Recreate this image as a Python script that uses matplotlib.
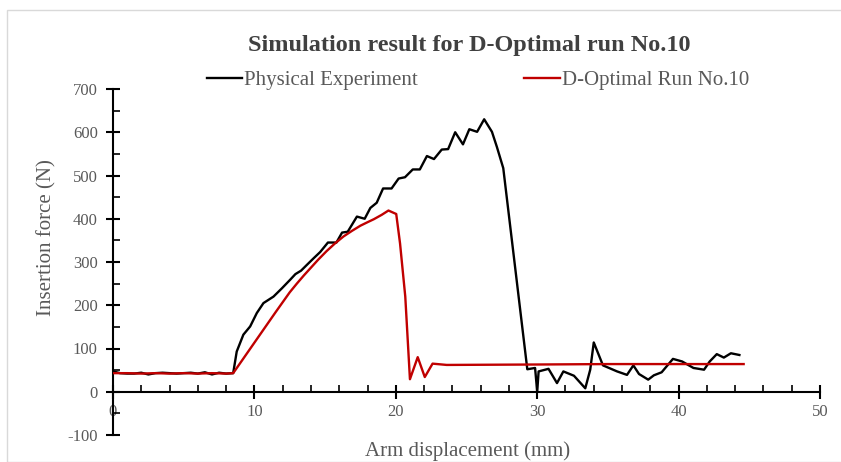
import matplotlib
matplotlib.use("Agg")
import matplotlib.pyplot as plt
from matplotlib.patches import Rectangle
from matplotlib.ticker import MultipleLocator

plt.rcParams['font.family'] = ['Liberation Serif', 'DejaVu Serif']
plt.rcParams['axes.unicode_minus'] = False

# Physical experiment: arm displacement (mm) vs insertion force (N)
exp_x = [0.0, 0.5, 1.0, 1.5, 2.0, 2.5, 3.0, 3.5, 4.0, 4.5, 5.0, 5.5, 6.0, 6.5, 7.0, 7.5, 8.0, 8.5,
         8.75, 9.22, 9.7, 10.17, 10.64, 11.35, 11.94, 12.53, 12.9, 13.3, 13.7, 14.2, 14.65, 15.2, 15.8,
         16.2, 16.6, 17.25, 17.8, 18.2, 18.65, 19.1, 19.7, 20.2, 20.65, 21.2, 21.7, 22.2, 22.7,
         23.25, 23.7, 24.2, 24.75, 25.2, 25.75, 26.25, 26.8, 27.15, 27.6, 29.3, 29.85, 30.0,
         30.1, 30.8, 31.4, 31.85, 32.6, 33.4, 33.75, 34.0, 34.65, 35.65, 36.35, 36.8, 37.2,
         37.85, 38.25, 38.8, 39.6, 40.25, 41.05, 41.8, 42.2, 42.7, 43.2, 43.7, 44.3]
exp_y = [47, 43, 42, 42, 44, 40, 43, 44, 43, 42, 43, 44, 42, 45, 40, 44, 42, 43,
         93, 132, 151, 182, 205, 220, 239, 259, 272, 280, 293, 309, 323, 345, 345,
         368, 370, 405, 400, 425, 437, 470, 470, 493, 496, 514, 514, 545, 538,
         560, 561, 600, 572, 607, 601, 630, 601, 566, 517, 52, 55, 0,
         47, 53, 20, 47, 37, 8, 51, 114, 61, 47, 39, 61, 41,
         28, 38, 45, 76, 70, 55, 51, 70, 87, 79, 89, 85]

# D-Optimal simulation run No.10
sim_x = [0.0, 1.0, 2.0, 3.0, 4.0, 5.0, 6.0, 7.0, 8.0, 8.5, 9.5, 10.5, 11.5, 12.5, 13.0,
         13.5, 14.0, 14.5, 15.1, 15.7, 16.3, 16.9, 17.5, 18.0, 18.45, 19.0, 19.48, 20.03,
         20.3, 20.67, 21.0, 21.55, 22.05, 22.6, 23.6, 30.0, 35.0, 40.0, 44.6]
sim_y = [43, 43, 42, 43, 42, 43, 42, 43, 42, 43, 90, 137, 184, 230, 250,
         269, 287, 305, 325, 343, 359, 372, 384, 392, 399, 409, 419, 411,
         343, 220, 29, 80, 34, 65, 62, 63, 64, 64, 64]

exp_label = "Physical Experiment"
sim_label = "D-Optimal Run No.10"
title = "Simulation result for D-Optimal run No.10"
x_label = "Arm displacement (mm)"
y_label = "Insertion force (N)"

text_gray = "#595959"

fig = plt.figure(figsize=(8.41, 4.62), dpi=100)
fig.patches.append(Rectangle((7 / 841, 0), 1.0, 1 - 10 / 462, transform=fig.transFigure,
                             fill=False, edgecolor="#D9D9D9", linewidth=1.0))

ax = fig.add_axes([113 / 841, 27 / 462, 707 / 841, 346 / 462])
ax.plot(exp_x, exp_y, color="black", lw=1.7, label=exp_label, zorder=2)
ax.plot(sim_x, sim_y, color="#C00000", lw=1.7, label=sim_label, zorder=3)

ax.set_xlim(0, 50)
ax.set_ylim(-100, 700)

for side in ("top", "right"):
    ax.spines[side].set_visible(False)
ax.spines["left"].set_position(("data", 0))
ax.spines["bottom"].set_position(("data", 0))
for side in ("left", "bottom"):
    ax.spines[side].set_linewidth(1.5)
    ax.spines[side].set_color("black")

ax.xaxis.set_major_locator(MultipleLocator(10))
ax.xaxis.set_minor_locator(MultipleLocator(2))
ax.yaxis.set_major_locator(MultipleLocator(100))
ax.yaxis.set_minor_locator(MultipleLocator(50))
ax.tick_params(which="major", direction="inout", length=10, width=1.5, color="black",
               labelsize=12, labelcolor=text_gray)
ax.tick_params(axis="y", which="major", pad=6)
ax.tick_params(axis="x", which="major", pad=4)
ax.tick_params(which="minor", direction="in", length=5, width=1.2, color="black")

fig.text(469 / 841, 1 - 45 / 462, title, ha="center", va="center", fontsize=17.5,
         fontweight="bold", color="#404040")
fig.text(468 / 841, 1 - 451 / 462, x_label, ha="center", va="center", fontsize=15,
         color=text_gray)
fig.text(47 / 841, 1 - 238 / 462, y_label, ha="center", va="center", fontsize=15,
         color=text_gray, rotation=90)

leg = ax.legend(loc="center", bbox_to_anchor=(478 / 841, 1 - 80 / 462), bbox_transform=fig.transFigure,
                ncol=2, frameon=False, fontsize=15, handlelength=1.7, handletextpad=0.1,
                columnspacing=5.1, borderaxespad=0)
for t in leg.get_texts():
    t.set_color(text_gray)

fig.savefig("out.png", dpi=100)
